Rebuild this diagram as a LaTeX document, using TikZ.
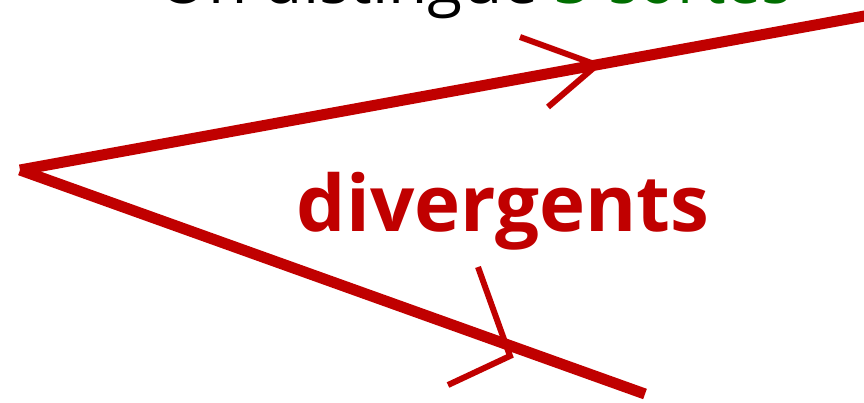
\documentclass[tikz,border=0pt]{standalone}
\usepackage{fontspec}
\setmainfont{Open Sans}
\usepackage{xcolor}
\usetikzlibrary{positioning,calc}
\definecolor{rayred}{RGB}{192,0,0}
\definecolor{titlegreen}{RGB}{0,110,0}

\begin{document}
\begin{tikzpicture}[
  x=1pt, y=-1pt,
  ray/.style={draw=rayred, line width=11pt},
  tip/.style={draw=rayred, line width=6pt},
  title/.style={font=\fontsize{64}{74}\selectfont, inner sep=0pt, anchor=base west}
]
\useasboundingbox (0,0) rectangle (864,403);
\clip (0,0) rectangle (864,403);
% source point and ray ends
\coordinate (src) at (20,170);
\coordinate (up) at (870,15);
\coordinate (low) at (645,394);
\draw[ray] (src) -- (up);
\draw[ray] (src) -- (low);
% arrow heads on the rays
\coordinate (uptip) at (597,65);
\coordinate (lowtip) at (510,356);
\draw[tip] (520,37) -- (uptip) -- (548,107);
\draw[tip] (478,267) -- (lowtip) -- (448,385);
% texts
\node[title] (head) at (158,4) {On distingue \textcolor{titlegreen}{3 sortes}};
\node[text=rayred, font=\bfseries\fontsize{78}{90}\selectfont, inner sep=0pt] (lbl) at (503,211) {divergents};
\end{tikzpicture}
\end{document}
